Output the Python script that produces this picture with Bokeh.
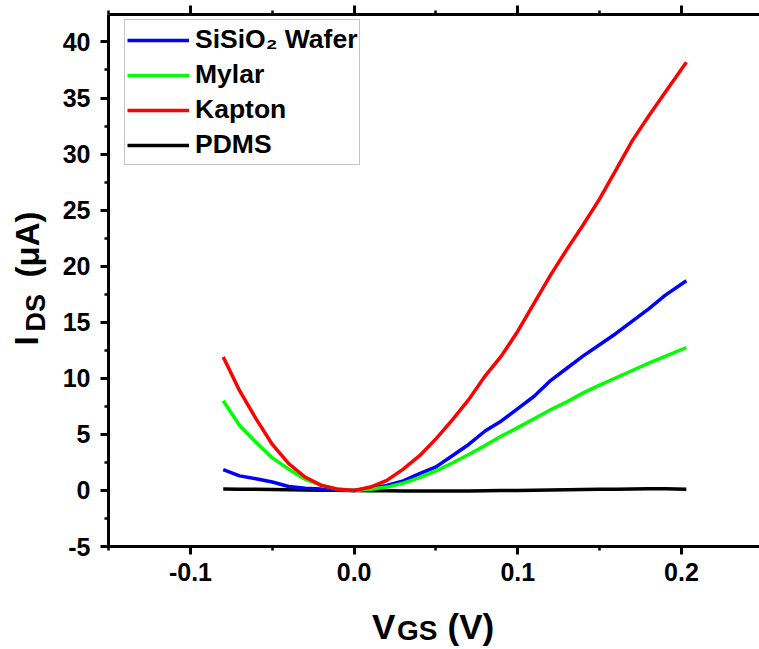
from bokeh.plotting import figure
from bokeh.layouts import row, column
from bokeh.models import (Legend, LegendItem, LinearAxis, Label, Range1d,
                          FixedTicker, CustomJSTickFormatter)
from bokeh.embed import file_html
from bokeh.resources import INLINE
import math

# ---------------- data ----------------
vgs = [-0.08, -0.07, -0.06, -0.05, -0.04, -0.03, -0.02, -0.01, 0.0,
       0.01, 0.02, 0.03, 0.04, 0.05, 0.06, 0.07, 0.08, 0.09, 0.10,
       0.11, 0.12, 0.13, 0.14, 0.15, 0.16, 0.17, 0.18, 0.19, 0.203]

ids_sisio2 = [1.85, 1.3, 1.05, 0.75, 0.35, 0.2, 0.12, 0.05, 0.0,
              0.2, 0.45, 0.85, 1.5, 2.1, 3.1, 4.1, 5.3, 6.2, 7.3,
              8.4, 9.8, 10.9, 12.0, 13.0, 14.0, 15.1, 16.2, 17.4, 18.7]

ids_mylar = [8.0, 5.8, 4.3, 2.9, 1.9, 1.0, 0.45, 0.12, 0.0,
             0.1, 0.3, 0.65, 1.15, 1.75, 2.45, 3.2, 4.0, 4.85, 5.6,
             6.4, 7.2, 7.9, 8.7, 9.4, 10.05, 10.7, 11.35, 11.95, 12.75]

ids_kapton = [11.9, 8.9, 6.4, 4.1, 2.4, 1.2, 0.45, 0.1, 0.0,
              0.3, 0.9, 1.9, 3.1, 4.6, 6.3, 8.1, 10.2, 12.0, 14.2,
              16.7, 19.2, 21.5, 23.7, 26.0, 28.6, 31.2, 33.4, 35.5, 38.2]

ids_pdms = [0.12, 0.11, 0.1, 0.08, 0.06, 0.04, 0.02, 0.01, 0.0,
            -0.02, -0.03, -0.04, -0.05, -0.05, -0.04, -0.04, -0.02, 0.0, 0.0,
            0.02, 0.04, 0.06, 0.08, 0.1, 0.1, 0.12, 0.14, 0.14, 0.1]

series_names = ["SiSiO\u2082 Wafer", "Mylar", "Kapton", "PDMS"]
x_major = [-0.1, 0.0, 0.1, 0.2]
x_minor = [-0.15, -0.05, 0.05, 0.15, 0.25]
y_major = [-5, 0, 5, 10, 15, 20, 25, 30, 35, 40]
y_minor = [-2.5, 2.5, 7.5, 12.5, 17.5, 22.5, 27.5, 32.5, 37.5, 42.5]

# ---------------- layout ----------------
W, H = 759, 649
YT_W = 50          # strip holding the y title
XT_H = 54          # strip holding the x title
MAIN_W, MAIN_H = W - YT_W, H - XT_H
FRAME_L = 108      # window x of the plot frame's left edge
X0, X1 = -0.1501, 0.2477
Y0, Y1 = -5.0, 42.45
FONT = "Liberation Sans"

p = figure(width=MAIN_W, height=MAIN_H, output_backend="svg", toolbar_location=None,
           x_range=Range1d(X0, X1), y_range=Range1d(Y0, Y1),
           min_border_left=FRAME_L - YT_W, min_border_right=0,
           min_border_top=14, min_border_bottom=MAIN_H - 546)
p.xgrid.visible = False
p.ygrid.visible = False
p.outline_line_color = None
p.background_fill_color = "white"
p.border_fill_color = "white"

def style_axis(ax):
    ax.axis_line_width = 3
    ax.axis_line_color = "black"
    ax.major_tick_line_width = 3
    ax.minor_tick_line_width = 2.5
    ax.major_tick_out = 8
    ax.major_tick_in = 0
    ax.minor_tick_out = 4
    ax.minor_tick_in = 0
    ax.major_label_text_font = FONT
    ax.major_label_text_font_style = "bold"
    ax.major_label_text_font_size = "25px"
    ax.major_label_text_color = "black"

xa = p.xaxis[0]
xa.ticker = FixedTicker(ticks=x_major, minor_ticks=x_minor)
xa.formatter = CustomJSTickFormatter(code="return tick.toFixed(1);")
style_axis(xa)
xa.major_label_standoff = 8

ya = p.yaxis[0]
ya.ticker = FixedTicker(ticks=y_major, minor_ticks=y_minor)
ya.formatter = CustomJSTickFormatter(code="return tick.toFixed(0);")
style_axis(ya)
ya.major_label_standoff = 10

top = LinearAxis(ticker=FixedTicker(ticks=x_major, minor_ticks=x_minor),
                 formatter=CustomJSTickFormatter(code="return '';"))
style_axis(top)
top.major_tick_out = 9
top.minor_tick_out = 4
top.major_label_text_font_size = "0px"
top.major_label_standoff = 0
p.add_layout(top, "above")

# ---------------- lines ----------------
lw = 3.5
r_pdms = p.line(vgs, ids_pdms, line_color="black", line_width=lw)
r_si = p.line(vgs, ids_sisio2, line_color="#0000FF", line_width=lw)
r_my = p.line(vgs, ids_mylar, line_color="#00FF00", line_width=lw)
r_ka = p.line(vgs, ids_kapton, line_color="#FF0000", line_width=lw)

legend = Legend(items=[LegendItem(label=series_names[0], renderers=[r_si]),
                       LegendItem(label=series_names[1], renderers=[r_my]),
                       LegendItem(label=series_names[2], renderers=[r_ka]),
                       LegendItem(label=series_names[3], renderers=[r_pdms])],
                location=(16, 381))
legend.label_text_font = FONT
legend.label_text_font_style = "bold"
legend.label_text_font_size = "26.5px"
legend.label_text_color = "black"
legend.glyph_width = 62
legend.glyph_height = 20
legend.label_height = 35
legend.label_standoff = 6
legend.padding = 2
legend.spacing = 0
legend.margin = 0
legend.border_line_color = "#8c8c8c"
legend.border_line_width = 1
legend.background_fill_color = "white"
legend.background_fill_alpha = 1.0
p.add_layout(legend)

# ---------------- title strips (pixel-coordinate figures) ----------------
def strip(w, h, left=0, right=0):
    fw = w - left - right
    f = figure(width=w, height=h, output_backend="svg", toolbar_location=None,
               x_range=Range1d(0, fw), y_range=Range1d(h, 0),
               x_axis_type=None, y_axis_type=None, min_border=0,
               min_border_left=left, min_border_right=right)
    f.outline_line_color = None
    f.background_fill_color = "white"
    f.border_fill_color = "white"
    return f

# x strip shares the main plot's left/right borders so its frame starts at FRAME_L
xt = strip(MAIN_W, XT_H, left=FRAME_L - YT_W, right=0)
yt = strip(YT_W, H)

def lab(f, text, x, y, size, angle=0.0):
    f.add_layout(Label(x=x, y=y, text=text, angle=angle,
                       text_font=FONT, text_font_style="bold",
                       text_font_size=size, text_color="black",
                       text_align="left", text_baseline="alphabetic"))

# x title: V_GS (V)   (window px minus strip frame origin, baseline correction)
ox, oy, dy = FRAME_L, MAIN_H, 12.0
lab(xt, "V", 371.5 - ox, 638.0 - oy - dy, "35px")
lab(xt, "GS", 396.5 - ox, 642.0 - oy - dy, "28px")
lab(xt, "(V)", 447.0 - ox, 638.0 - oy - dy, "35px")

# y title: I_DS (μA), rotated
dx = 11.0
lab(yt, "I", 36.7 - dx, 345.0, "33px", math.pi / 2)
lab(yt, "DS", 46.0 - dx, 331.0, "27px", math.pi / 2)
lab(yt, "(\u03bcA)", 37.5 - dx, 277.0, "33px", math.pi / 2)

layout = row(yt, column(p, xt))
open("out.html", "w").write(file_html(layout, INLINE))
